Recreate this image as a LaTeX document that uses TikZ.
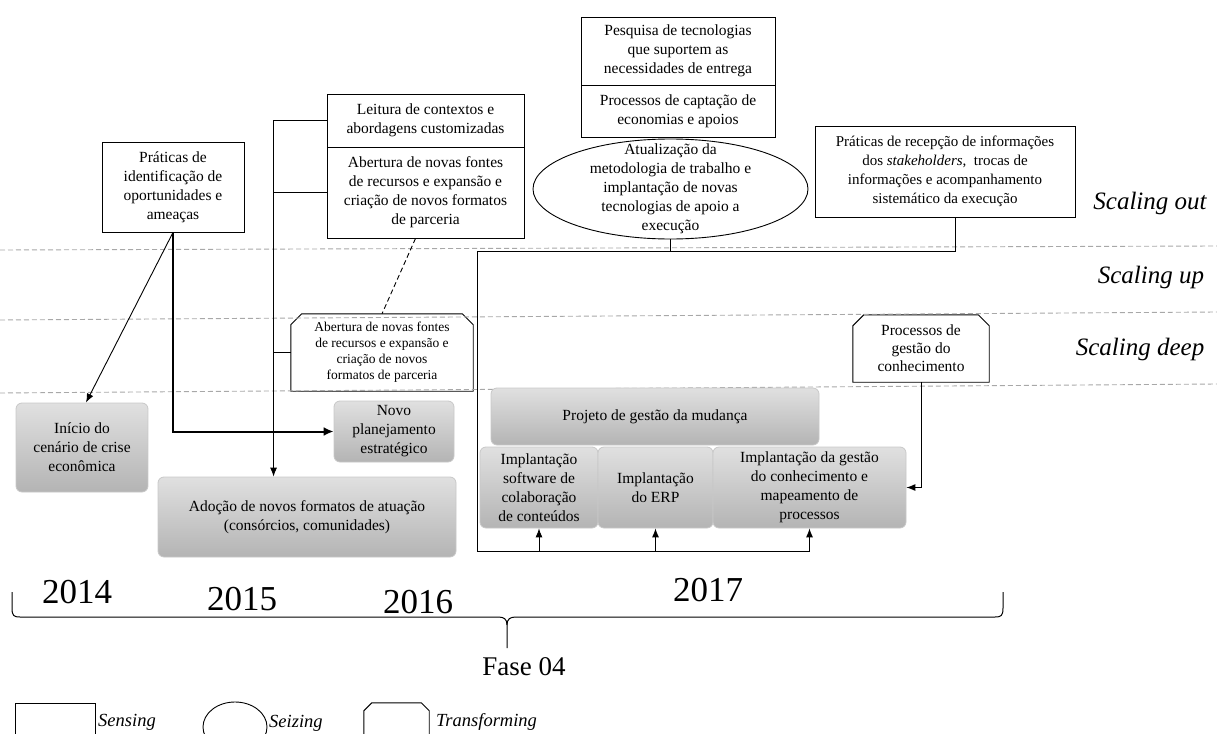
\documentclass[tikz,border=0pt]{standalone}
\usepackage{fontspec}
\setmainfont{Liberation Serif}
\usetikzlibrary{arrows.meta,shapes.geometric,backgrounds}
\definecolor{gtop}{RGB}{224,224,224}
\definecolor{gbot}{RGB}{180,180,180}
\definecolor{gline}{RGB}{168,168,168}
\definecolor{gedge}{RGB}{200,200,200}
\begin{document}
\begin{tikzpicture}[x=1pt,y=-1pt,
  txt/.style={font=\fontsize{15.5}{19}\selectfont},
  sbox/.style={txt, draw, fill=white, line width=0.9pt, inner sep=0pt, align=center},
  gbox/.style={txt, draw=gedge, line width=0.8pt, rounded corners=6pt, top color=gtop, bottom color=gbot, inner sep=0pt, align=center},
  tbox/.style={inner sep=0pt, align=center},
  conn/.style={line width=0.9pt},
  arr/.style={line width=0.9pt, -{Latex[length=9pt,width=7pt]}},
  tharr/.style={line width=2pt, -{Latex[length=10pt,width=9pt]}},
  guide/.style={gline, line width=0.9pt, dash pattern=on 5pt off 3pt},
  scl/.style={font=\fontsize{25}{28}\selectfont\itshape},
  leg/.style={font=\fontsize{18.5}{21}\selectfont\itshape, anchor=west, inner sep=0pt},
  yr/.style={font=\fontsize{35}{40}\selectfont, inner sep=0pt},
  chamf/.style={line width=0.9pt, fill=white}
]
\useasboundingbox (0,0) rectangle (1217,733);
\clip (0,0) rectangle (1217,733);

% level guides
\draw[guide] (0,250) -- (1217,246);
\draw[guide] (0,320) -- (1217,312);
\draw[guide] (0,393) -- (1217,384);

\node[scl] (lout) at (1150,203) {Scaling out};
\node[scl] (lup) at (1151,277) {Scaling up};
\node[scl] (ldeep) at (1140,349) {Scaling deep};

% sensing boxes
\node[sbox, minimum width=142pt, minimum height=90pt] (p1) at (173,187)
  {Práticas de\\identificação de\\oportunidades e\\ameaças};
\node[sbox, minimum width=197pt, minimum height=53pt] (leit) at (425.5,120.5)
  {Leitura de contextos e\\abordagens customizadas};
\node[sbox, minimum width=197pt, minimum height=91pt] (abe) at (425.5,192.5)
  {Abertura de novas fontes\\de recursos e expansão e\\criação de novos formatos\\de parceria};
\node[sbox, minimum width=194pt, minimum height=68pt] (pes) at (678,51)
  {Pesquisa de tecnologias\\que suportem as\\necessidades de entrega};
\node[sbox, minimum width=194pt, minimum height=52pt] (pro) at (678,111)
  {Processos de captação de\\economias e apoios};
\node[sbox, font=\fontsize{15}{19}\selectfont, minimum width=260pt, minimum height=91pt] (rec) at (945,171.5)
  {Práticas de recepção de informações\\dos \textit{stakeholders},\ \ trocas de\\informações e acompanhamento\\sistemático da execução};

% seizing
\node[draw, fill=white, line width=0.9pt, ellipse, minimum width=275pt, minimum height=100pt, inner sep=0pt] (ell) at (670.5,189) {};
\node[txt, align=center, inner sep=0pt] (ellt) at (ell.center)
  {Atualização da\\metodologia de trabalho e\\implantação de novas\\tecnologias de apoio a\\execução};

% transforming
\node[tbox, font=\fontsize{13.5}{16}\selectfont, minimum width=182pt, minimum height=77pt] (trA) at (382,352.5)
  {\rule{0pt}{6pt}Abertura de novas fontes\\de recursos e expansão e\\criação de novos\\formatos de parceria};
\node[tbox, txt, font=\fontsize{15.5}{18}\selectfont, minimum width=136pt, minimum height=67pt] (trB) at (921,348.5)
  {Processos de\\gestão do\\conhecimento};
\begin{scope}[on background layer]
  \foreach \n in {trA,trB}{
    \draw[chamf] (\n.south west) -- ([yshift=-11pt]\n.north west) -- ([xshift=11pt]\n.north west)
      -- ([xshift=-11pt]\n.north east) -- ([yshift=-11pt]\n.north east) -- (\n.south east) -- cycle;
  }
\end{scope}

% outcome boxes
\node[gbox, minimum width=132pt, minimum height=89pt] (ini) at (82,447.5)
  {Início do\\cenário de crise\\econômica};
\node[gbox, minimum width=120pt, minimum height=61pt] (novo) at (394,431.5)
  {Novo\\planejamento\\estratégico};
\node[gbox, minimum width=298pt, minimum height=80pt] (ado) at (307,517)
  {Adoção de novos formatos de atuação\\(consórcios, comunidades)};
\node[gbox, minimum width=328pt, minimum height=57pt] (proj) at (655,416.5)
  {Projeto de gestão da mudança};
\node[gbox, minimum width=118pt, minimum height=81pt] (im1) at (539,487.5)
  {Implantação\\software de\\colaboração\\de conteúdos};
\node[gbox, minimum width=115pt, minimum height=81pt] (im2) at (655.5,487.5)
  {Implantação\\do ERP};
\node[gbox, minimum width=193pt, minimum height=81pt] (im3) at (809.5,487.5)
  {Implantação da gestão\\do conhecimento e\\mapeamento de\\processos};

% connectors (left)
\draw[arr] (p1.south) -- ([xshift=4pt]ini.north);
\draw[tharr] (p1.south) |- (novo.west);
\coordinate (vtop) at ([xshift=-53pt]leit.west);
\draw[conn] (leit.west) -- (vtop);
\draw[arr] (vtop) -- (vtop |- ado.north);
\draw[conn] (abe.west) -- (abe.west -| vtop);
\draw[conn] (trA.west) -- (trA.west -| vtop);
\draw[conn, dashed, dash pattern=on 5pt off 3pt] ([xshift=-10pt]abe.south) -- (trA.north);

% connectors (right)
\coordinate (h1) at (477,251);
\coordinate (b0) at (477,551);
\draw[conn] ([xshift=10pt]rec.south) |- (h1);
\draw[conn] (ell.south) -- (ell.south |- h1);
\draw[conn] (h1) -- (b0) -- (b0 -| im3.south);
\draw[arr] (b0 -| im1.south) -- (im1.south);
\draw[arr] (b0 -| im2.south) -- (im2.south);
\draw[arr] (b0 -| im3.south) -- (im3.south);
\draw[arr] (trB.south) |- (im3.east);

% timeline
\node[yr] (y14) at (77,592) {2014};
\node[yr] (y15) at (242,599) {2015};
\node[yr] (y16) at (418,602) {2016};
\node[yr] (y17) at (708,590) {2017};
\coordinate (bl) at (12,592);
\coordinate (br) at (1003,592);
\coordinate (bm) at (507,648);
\draw[line width=1pt] (bl) -- (12,608) .. controls (12,616) and (14,617) .. (20,617)
  -- (498,617) .. controls (504,617) and (507,619) .. (507,625) -- (bm);
\draw[line width=1pt] (br) -- (1003,608) .. controls (1003,616) and (1001,617) .. (995,617)
  -- (516,617) .. controls (510,617) and (507,619) .. (507,625);
\node[font=\fontsize{27}{30}\selectfont, inner sep=0pt] (fase) at (524,667) {Fase 04};

% legend
\node[draw, line width=0.9pt, minimum width=80pt, minimum height=40pt, inner sep=0pt] (lsen) at (55.5,723) {};
\node[leg] (tsen) at (98,722) {Sensing};
\node[draw, ellipse, line width=0.9pt, minimum width=64pt, minimum height=50pt, inner sep=0pt] (lsei) at (235,727) {};
\node[leg] (tsei) at (269,723) {Seizing};
\node[minimum width=65pt, minimum height=40pt, inner sep=0pt] (ltra) at (396.5,723) {};
\draw[line width=0.9pt] (ltra.south west) -- ([yshift=-8pt]ltra.north west) -- ([xshift=8pt]ltra.north west)
  -- ([xshift=-8pt]ltra.north east) -- ([yshift=-8pt]ltra.north east) -- (ltra.south east);
\node[leg] (ttra) at (436,722) {Transforming};
\end{tikzpicture}
\end{document}
